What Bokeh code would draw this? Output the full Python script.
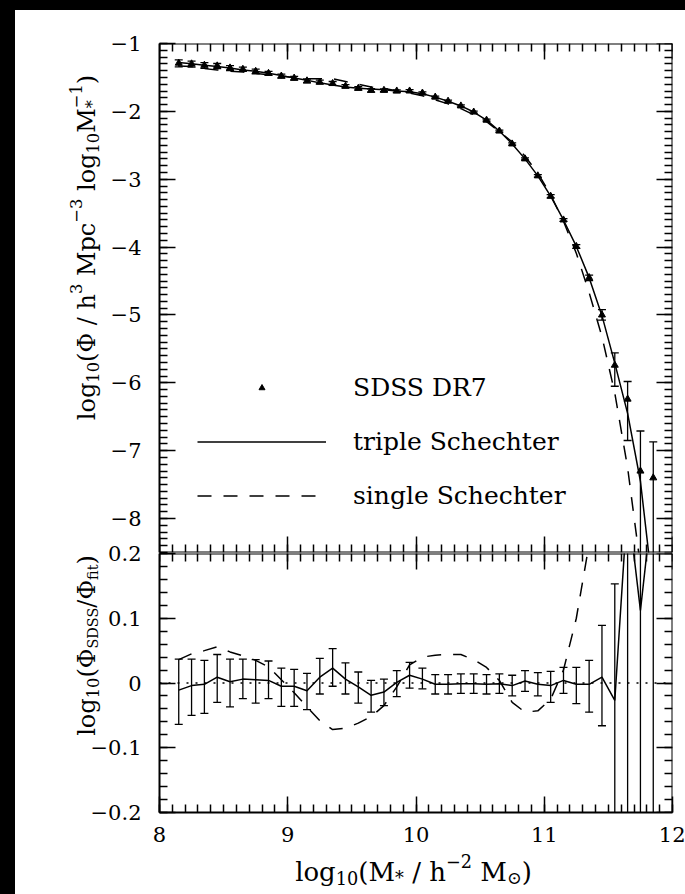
import glob
import math
import numpy as np
from bokeh.plotting import figure
from bokeh.models import (Range1d, LinearAxis, FixedTicker, CustomJSTickFormatter,
                          Label, Legend, LegendItem, Spacer, Span)
from bokeh.layouts import column, row
from bokeh.embed import file_html
from bokeh.resources import INLINE

# ---------------- data ----------------
log_mass = [8.15, 8.25, 8.35, 8.45, 8.55, 8.65, 8.75, 8.85, 8.95, 9.05,
            9.15, 9.25, 9.35, 9.45, 9.55, 9.65, 9.75, 9.85, 9.95, 10.05,
            10.15, 10.25, 10.35, 10.45, 10.55, 10.65, 10.75, 10.85, 10.95, 11.05,
            11.15, 11.25, 11.35, 11.45, 11.55, 11.65, 11.75, 11.85]

log_phi_sdss = [-1.29, -1.30, -1.32, -1.33, -1.36, -1.38, -1.41, -1.44, -1.48, -1.51,
                -1.55, -1.57, -1.59, -1.63, -1.66, -1.69, -1.69, -1.70, -1.70, -1.73,
                -1.79, -1.85, -1.92, -2.01, -2.13, -2.29, -2.48, -2.70, -2.95, -3.25,
                -3.60, -3.99, -4.45, -5.00, -5.74, -6.24, -7.30, -7.40]

err_up = [0.048, 0.041, 0.037, 0.035, 0.035, 0.031, 0.031, 0.030, 0.028, 0.026,
          0.027, 0.029, 0.030, 0.025, 0.023, 0.023, 0.020, 0.018, 0.020, 0.017,
          0.015, 0.015, 0.015, 0.015, 0.015, 0.015, 0.016, 0.016, 0.018, 0.022,
          0.020, 0.026, 0.037, 0.080, 0.180, 0.260, 0.590, 0.530]
err_dn = [0.053, 0.046, 0.045, 0.039, 0.039, 0.030, 0.036, 0.028, 0.031, 0.031,
          0.029, 0.026, 0.028, 0.023, 0.025, 0.026, 0.021, 0.022, 0.020, 0.015,
          0.015, 0.015, 0.015, 0.015, 0.015, 0.015, 0.016, 0.016, 0.018, 0.026,
          0.020, 0.030, 0.043, 0.075, 0.310, 0.610, 3.000, 3.000]

fit_mass = log_mass
log_phi_triple = [-1.28, -1.30, -1.32, -1.34, -1.36, -1.39, -1.41, -1.44, -1.47, -1.51,
                  -1.54, -1.58, -1.61, -1.64, -1.66, -1.67, -1.68, -1.70, -1.71, -1.74,
                  -1.79, -1.85, -1.92, -2.01, -2.13, -2.29, -2.48, -2.70, -2.95, -3.25,
                  -3.60, -3.99, -4.45, -5.01, -5.71, -6.45, -7.45, -9.10]
single_mass = log_mass[:-1]
log_phi_single = [-1.33, -1.34, -1.37, -1.39, -1.41, -1.42, -1.44, -1.46, -1.48, -1.50,
                  -1.52, -1.52, -1.52, -1.56, -1.60, -1.64, -1.66, -1.70, -1.73, -1.77,
                  -1.83, -1.89, -1.96, -2.05, -2.15, -2.30, -2.45, -2.66, -2.91, -3.23,
                  -3.62, -4.09, -4.67, -5.32, -6.15, -7.25, -8.70]

resid_triple = [-0.011, -0.004, -0.002, 0.009, 0.002, 0.006, 0.005, 0.004, -0.005, -0.005,
                -0.012, 0.009, 0.023, 0.006, -0.006, -0.019, -0.014, 0.001, 0.012, 0.006,
                -0.002, -0.002, -0.001, -0.001, -0.002, -0.001, -0.004, 0.003, -0.002, -0.004,
                0.004, -0.002, -0.002, 0.009, -0.027, 0.280, 0.112, 0.290]
resid_mass_single = log_mass[:34]
resid_single = [0.036, 0.045, 0.050, 0.056, 0.048, 0.042, 0.035, 0.025, 0.005, -0.015,
                -0.037, -0.058, -0.072, -0.070, -0.062, -0.052, -0.035, -0.006, 0.028, 0.040,
                0.043, 0.044, 0.044, 0.036, 0.024, 0.004, -0.030, -0.045, -0.043, -0.025,
                0.020, 0.100, 0.215, 0.400]

x_ticks = [8, 9, 10, 11, 12]
top_y_ticks = [-8, -7, -6, -5, -4, -3, -2, -1]
bot_y_ticks = [-0.2, -0.1, 0, 0.1, 0.2]
legend_labels = ["SDSS DR7", "triple Schechter", "single Schechter"]

# ---------------- style / layout ----------------
FONT = "DejaVu Serif"
TICK_FS = 21
YLAB_FS = 24
XLAB_FS = 26
LEG_FS = 25

try:
    from PIL import ImageFont
    _c = glob.glob("/usr/share/fonts/**/DejaVuSerif.ttf", recursive=True)
    _FP = _c[0] if _c else None
except Exception:
    _FP = None

_font_cache = {}


def text_width(s, size):
    if _FP:
        try:
            key = int(round(size * 10))
            if key not in _font_cache:
                _font_cache[key] = ImageFont.truetype(_FP, key)
            return _font_cache[key].getlength(s) / 10.0
        except Exception:
            pass
    return 0.6 * size * len(s)


def rich_label(fig, pieces, size, cx, cy, vertical):
    """Lay out a label with sub/superscripts on a page-coordinate overlay.
    pieces: (text, kind[, scale]) with kind n (normal), b (sub), p (sup), bp (sub+sup).
    vertical: cx = baseline x, cy = centre along the text; else cx = centre, cy = baseline."""
    layout = []
    adv = 0.0
    for pc in pieces:
        text, kind = pc[0], pc[1]
        small = size * (pc[2] if len(pc) > 2 else 0.68)
        if kind == "bp":
            sub, sup = text
            w = max(text_width(sub, small), text_width(sup, small))
            layout.append((sub, small, -0.25 * size, adv))
            layout.append((sup, small, 0.42 * size, adv))
            adv += w
            continue
        sz = size if kind == "n" else small
        shift = 0.0 if kind == "n" else (-0.25 * size if kind == "b" else 0.42 * size)
        lead = len(text) - len(text.lstrip(" "))
        adv += lead * text_width(" ", sz)
        t = text.lstrip(" ")
        layout.append((t, sz, shift, adv))
        adv += text_width(t, sz)
    start = -adv / 2.0
    for t, sz, shift, a in layout:
        if vertical:
            lab = Label(x=cx - shift, y=cy - (start + a), angle=math.pi / 2)
        else:
            lab = Label(x=cx + start + a, y=cy - shift)
        lab.text = t
        lab.text_font = FONT
        lab.text_font_size = f"{sz:.1f}px"
        lab.text_color = "black"
        lab.text_align = "left"
        lab.text_baseline = "alphabetic"
        fig.add_layout(lab)


minus_fmt = "return tick < 0 ? '\\u2212' + Math.abs(tick) : String(tick);"


def make_axis(ticks, minor, labeled, fixed=None, standoff=14):
    ax = LinearAxis(ticker=FixedTicker(ticks=ticks, minor_ticks=minor))
    if labeled:
        ax.formatter = CustomJSTickFormatter(code=minus_fmt)
        ax.major_label_text_font = FONT
        ax.major_label_text_font_size = f"{TICK_FS}px"
        ax.major_label_text_color = "black"
        ax.major_label_standoff = standoff
    else:
        ax.formatter = CustomJSTickFormatter(code="return '';")
        ax.major_label_text_font_size = "0px"
        ax.major_label_standoff = 0
    if fixed is not None:
        ax.fixed_location = fixed
    ax.axis_line_width = 2
    ax.axis_line_color = "black"
    ax.major_tick_line_width = 1.5
    ax.minor_tick_line_width = 1.5
    ax.major_tick_line_color = "black"
    ax.minor_tick_line_color = "black"
    ax.major_tick_in = 16
    ax.major_tick_out = 0
    ax.minor_tick_in = 8
    ax.minor_tick_out = 0
    return ax


x_minor = [round(v, 2) for v in np.arange(8.0, 12.0001, 0.1)]
top_minor = [round(v, 2) for v in np.arange(-8.5, -0.9999, 0.1)]
bot_minor = [round(v, 3) for v in np.arange(-0.2, 0.20001, 0.02)]

FIG_W = 670
ML, MR = 144, 13
OVERLAP = 14

# ---------------- top panel ----------------
p1 = figure(width=FIG_W, height=543, x_range=Range1d(8, 12), y_range=Range1d(-8.5, -1),
            x_axis_location=None, y_axis_location=None, tools="", toolbar_location=None,
            output_backend="svg", min_border_left=ML, min_border_right=MR,
            min_border_top=33, min_border_bottom=1)
p1.outline_line_color = None
p1.add_layout(make_axis(top_y_ticks, top_minor, True, standoff=18), "left")
p1.add_layout(make_axis(top_y_ticks, top_minor, False, fixed=12), "right")
p1.add_layout(make_axis(x_ticks, x_minor, False, fixed=-1), "above")
p1.add_layout(make_axis(x_ticks, x_minor, False, fixed=-8.5), "below")
p1.xgrid.visible = False
p1.ygrid.visible = False

xm = np.array(log_mass)
yd = np.array(log_phi_sdss)
eu = np.array(err_up)
ed = np.array(err_dn)

p1.segment(x0=xm, y0=yd - ed, x1=xm, y1=yd + eu, line_color="black", line_width=1.3)
p1.scatter(xm, yd + eu, marker="dash", size=8, line_color="black", line_width=1.3)
p1.scatter(xm, yd - ed, marker="dash", size=8, line_color="black", line_width=1.3)
r_pts = p1.scatter(xm, yd, marker="triangle", size=7, fill_color="black", line_color="black")
r_tri = p1.line(fit_mass, log_phi_triple, line_color="black", line_width=1.5)
r_sgl = p1.line(single_mass, log_phi_single, line_color="black", line_width=1.5,
                line_dash="14 12")

leg = Legend(items=[LegendItem(label=legend_labels[0], renderers=[r_pts]),
                    LegendItem(label=legend_labels[1], renderers=[r_tri]),
                    LegendItem(label=legend_labels[2], renderers=[r_sgl])],
             location=(38, 42))
leg.glyph_width = 129
leg.glyph_height = 15
leg.label_height = 15
leg.spacing = 25
leg.padding = 0
leg.margin = 0
leg.label_standoff = 27
leg.label_text_font = FONT
leg.label_text_font_size = f"{LEG_FS}px"
leg.label_text_color = "black"
leg.border_line_color = None
leg.background_fill_alpha = 0
p1.add_layout(leg)

# ---------------- bottom panel ----------------
p2 = figure(width=FIG_W, height=OVERLAP + 259 + 82, x_range=p1.x_range, y_range=Range1d(-0.2, 0.2),
            x_axis_location=None, y_axis_location=None, tools="", toolbar_location=None,
            output_backend="svg", min_border_left=ML, min_border_right=MR,
            min_border_top=OVERLAP, min_border_bottom=82)
p2.outline_line_color = None
p2.border_fill_color = None
p2.styles = {"margin-top": f"-{OVERLAP}px"}
p2.add_layout(make_axis(bot_y_ticks, bot_minor, True, standoff=18), "left")
p2.add_layout(make_axis(bot_y_ticks, bot_minor, False, fixed=12), "right")
p2.add_layout(make_axis(x_ticks, x_minor, False, fixed=0.2), "above")
p2.add_layout(make_axis(x_ticks, x_minor, True, standoff=14), "below")
p2.xgrid.visible = False
p2.ygrid.visible = False

p2.add_layout(Span(location=0, dimension="width", line_color="black", line_width=1.5,
                   line_dash="2 7"))
rt = np.array(resid_triple)
p2.segment(x0=xm, y0=rt - ed, x1=xm, y1=rt + eu, line_color="black", line_width=1.3)
p2.scatter(xm, rt + eu, marker="dash", size=8, line_color="black", line_width=1.3)
p2.scatter(xm, rt - ed, marker="dash", size=8, line_color="black", line_width=1.3)
p2.line(log_mass, resid_triple, line_color="black", line_width=1.5)
p2.line(resid_mass_single, resid_single, line_color="black", line_width=1.5, line_dash="14 12")

# ---------------- transparent overlay in page pixels for the axis titles ----------------
ov = figure(width=685, height=894, x_range=Range1d(0, 685), y_range=Range1d(894, 0),
            x_axis_location=None, y_axis_location=None, tools="", toolbar_location=None,
            output_backend="svg", min_border=0, title=None,
            background_fill_color=None, border_fill_color=None)
ov.outline_line_color = None
ov.xgrid.visible = False
ov.ygrid.visible = False
ov.styles = {"margin-top": "-894px"}

rich_label(ov, [("log", "n"), ("10", "b"), ("(Φ / h", "n"), ("3", "p"), (" Mpc", "n"),
                ("−3", "p"), (" log", "n"), ("10", "b"), ("M", "n"), (("*", "−1"), "bp"),
                (")", "n")], YLAB_FS, 86, 247, True)
rich_label(ov, [("log", "n"), ("10", "b"), ("(Φ", "n"), ("SDSS", "b", 0.6), ("/Φ", "n"),
                ("fit", "b", 0.6), (")", "n")], YLAB_FS, 86, 645, True)
rich_label(ov, [("log", "n"), ("10", "b"), ("(M", "n"), ("*", "b"), (" / h", "n"),
                ("−2", "p"), (" M", "n"), ("⊙", "b"), (")", "n")], XLAB_FS, 413, 871, False)

left_band = Spacer(width=15, height=894, styles={"background-color": "black"})
top_band = Spacer(width=FIG_W, height=10, styles={"background-color": "black"})
page = column(row(left_band, column(top_band, p1, p2)), ov)

open("out.html", "w").write(file_html(page, INLINE))
